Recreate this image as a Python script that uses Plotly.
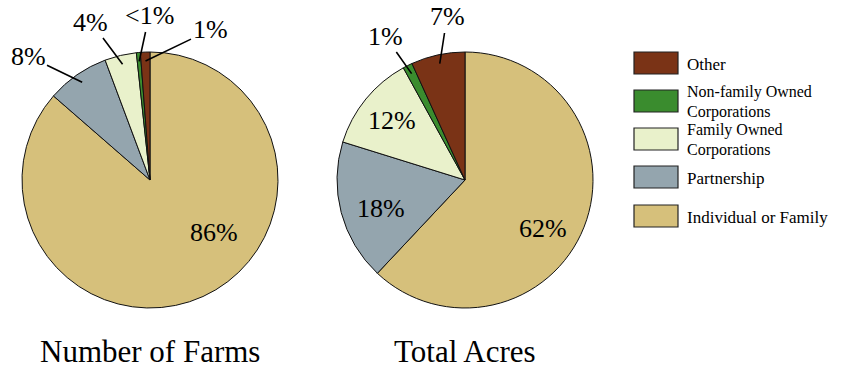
import math
import plotly.graph_objects as go

W, H = 852, 370

categories = ["Other", "Non-family Owned Corporations", "Family Owned Corporations",
              "Partnership", "Individual or Family"]
legend_lines = [["Other"], ["Non-family Owned", "Corporations"], ["Family Owned", "Corporations"],
                ["Partnership"], ["Individual or Family"]]
farms_values = [1.2, 0.5, 4.0, 7.9, 86.4]
farms_labels = ["1%", "<1%", "4%", "8%", "86%"]
acres_values = [6.8, 1.2, 12.2, 17.8, 62.0]
acres_labels = ["7%", "1%", "12%", "18%", "62%"]
titles = ["Number of Farms", "Total Acres"]

colors = ["#7A3316", "#3A8C2E", "#E9F1CB", "#94A5AE", "#D6C07B"]
FONT = "Liberation Serif, serif"

pies = [
    dict(values=farms_values, labels=farms_labels, title=titles[0], cx=150, cy=180, r=128,
         text_pos=[(210, 30), (149, 16), (91, 22), (28, 56), (214, 232)],
         leader=[True, True, True, True, False]),
    dict(values=acres_values, labels=acres_labels, title=titles[1], cx=465, cy=180, r=128,
         text_pos=[(447, 17), (385, 36), (392, 120), (381, 208), (543, 228)],
         leader=[True, True, False, False, False]),
]

fig = go.Figure()
annotations = []
shapes = []

for p in pies:
    cx, cy, r = p["cx"], p["cy"], p["r"]
    # slices run counterclockwise from 12 o'clock: drawn clockwise in reverse order
    fig.add_trace(go.Pie(
        values=p["values"][::-1], labels=categories[::-1], sort=False, direction="clockwise",
        rotation=0, textinfo="none", hoverinfo="label+percent",
        marker=dict(colors=colors[::-1], line=dict(color="#111111", width=1)),
        domain=dict(x=[(cx - r) / W, (cx + r) / W], y=[1 - (cy + r) / H, 1 - (cy - r) / H]),
        showlegend=False,
    ))
    total = sum(p["values"])
    cum = 0.0
    for v, lab, (tx, ty), lead in zip(p["values"], p["labels"], p["text_pos"], p["leader"]):
        mid = 90 + (cum + v / 2) / total * 360
        cum += v
        if lead:
            tipx = cx + 0.93 * r * math.cos(math.radians(mid))
            tipy = cy - 0.93 * r * math.sin(math.radians(mid))
            annotations.append(dict(
                x=tipx / W, y=1 - tipy / H, xref="paper", yref="paper",
                text=lab, showarrow=True, arrowhead=0, arrowwidth=1.6, arrowcolor="#000",
                ax=tx - tipx, ay=ty - tipy, startstandoff=0,
                font=dict(family=FONT, size=26, color="#000"),
            ))
        else:
            annotations.append(dict(
                x=tx / W, y=1 - ty / H, xref="paper", yref="paper", text=lab,
                showarrow=False, xanchor="center", yanchor="middle",
                font=dict(family=FONT, size=26, color="#000"),
            ))
    annotations.append(dict(
        x=cx / W, y=1 - 351 / H, xref="paper", yref="paper", text=p["title"],
        showarrow=False, xanchor="center", yanchor="middle",
        font=dict(family=FONT, size=31, color="#000"),
    ))

# custom legend
box_tops = [52, 90, 128, 166, 205]
for col, lines, top in zip(colors, legend_lines, box_tops):
    shapes.append(dict(type="rect", xref="paper", yref="paper",
                       x0=634 / W, x1=678 / W, y0=1 - (top + 22) / H, y1=1 - top / H,
                       fillcolor=col, line=dict(color="#222", width=1.2)))
    mid = top + 11
    if len(lines) == 1:
        text, size = lines[0], 17
    else:
        text = "<br>".join('<span style="font-size:16px">%s</span>' % ln for ln in lines)
        size = 15
    annotations.append(dict(
        x=685 / W, y=1 - (mid + 1) / H, xref="paper", yref="paper", text=text,
        showarrow=False, xanchor="left", yanchor="middle", align="left",
        font=dict(family=FONT, size=size, color="#000"),
    ))

fig.update_layout(
    width=W, height=H, margin=dict(l=0, r=0, t=0, b=0),
    paper_bgcolor="white", plot_bgcolor="white",
    annotations=annotations, shapes=shapes,
)
fig.write_html("out.html")
